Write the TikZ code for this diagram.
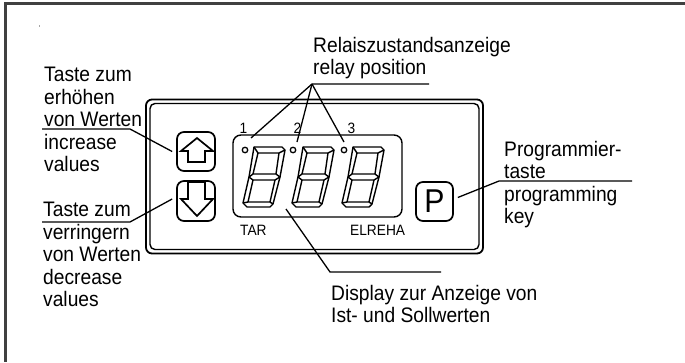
\documentclass[tikz,border=0pt]{standalone}
\usepackage{fontspec}
\setmainfont[FakeStretch=0.915]{Liberation Sans}
\usetikzlibrary{positioning}

\begin{document}
\begin{tikzpicture}[
    x=1pt, y=-1pt,
    label/.style={
        anchor=north west,
        inner sep=0pt,
        align=left,
        font=\fontsize{21}{22.5}\selectfont
    },
    small/.style={
        anchor=base,
        inner sep=0pt,
        font=\fontsize{15}{16}\selectfont
    },
    key/.style={
        rectangle,
        draw=black,
        line width=1.7pt,
        rounded corners=7pt,
        inner sep=0pt
    },
    led/.style={
        circle,
        draw=black,
        line width=1.3pt,
        inner sep=0pt,
        minimum size=5.5pt
    },
    leader/.style={line width=1.3pt},
    symbol/.style={line width=1.7pt, line join=miter},
    segment/.style={line width=1.4pt, line join=round}
]
    \useasboundingbox (0,0) rectangle (685,362);

    % 1. Page frame (top and left only)
    \draw[line width=2.5pt, black!75] (685,3.5) -- (5.5,3.5) -- (5.5,362);
    \fill[black!35] (38.5,25) rectangle (40,26.5);

    % 2. Housing
    \node (housing) [key, line width=1.8pt, rounded corners=6pt, minimum width=337pt, minimum height=154pt] at (314.5,176.5) {};
    \node (bezel) [key, line width=1.4pt, rounded corners=5pt, minimum width=329pt, minimum height=146pt] at (314.5,176.5) {};

    % 3. Keys
    \node (upkey) [key, minimum width=38pt, minimum height=39pt] at (196,151.5) {};
    \node (downkey) [key, minimum width=38pt, minimum height=40pt] at (196,201) {};
    \node (pkey) [key, minimum width=37pt, minimum height=39pt, font=\fontsize{33}{33}\selectfont] at (434.5,201.5) {P};

    \draw[symbol] (197,138) -- (213,151) -- (205,151) -- (205,162) -- (188,162) -- (188,151) -- (181,151) -- cycle;
    \draw[symbol] (188,182) -- (205,182) -- (205,199) -- (213,199) -- (197,216) -- (181,199) -- (188,199) -- cycle;

    % 4. Display with three digits
    \node (display) [key, line width=1.4pt, rounded corners=8pt, minimum width=169pt, minimum height=82pt] at (317.5,176) {};

    \foreach \n/\dx in {1/0, 2/49, 3/99} {
        \begin{scope}[shift={(\dx,0)}]
            \draw[segment] (254,147) -- (282,147) -- (285,150) -- (280,177) -- (273,204) -- (270,207) -- (247,207) -- (243,203) -- (249,177) -- cycle;
            \draw[segment] (258,153) -- (279,153) -- (276,174) -- (253,174) -- cycle;
            \draw[segment] (253,180) -- (275,180) -- (270,202) -- (248,202) -- cycle;
            \draw[segment] (254,147) -- (258,153) (285,150) -- (279,153);
            \draw[segment] (249,177) -- (253,174) (249,177) -- (253,180);
            \draw[segment] (280,177) -- (276,174) (280,177) -- (275,180);
            \draw[segment] (243,203) -- (248,202) (273,204) -- (270,202);
        \end{scope}
    }
    \node (led1) [led] at (245,150) {};
    \node (led2) [led] at (293,150) {};
    \node (led3) [led] at (344,150) {};

    \node (num1) [small] at (243.5,133) {1};
    \node (num2) [small] at (297.5,133) {2};
    \node (num3) [small] at (351.5,133) {3};
    \node (tar) [small, anchor=base west] at (240,235) {TAR};
    \node (elreha) [small, anchor=base west] at (350,235) {ELREHA};

    % 5. Labels
    \node (uplabel) [label] at (44,67) {Taste zum\\erhöhen\\von Werten\\increase\\values};
    \node (downlabel) [label] at (43,202) {Taste zum\\verringern\\von Werten\\decrease\\values};
    \node (relaylabel) [label] at (313,37) {Relaiszustandsanzeige\\relay position};
    \node (proglabel) [label] at (504,141) {Programmier-\\taste\\programming\\key};
    \node (displabel) [label] at (331,285) {Display zur Anzeige von\\Ist- und Sollwerten};

    % 6. Leader lines
    \coordinate (upbend) at (130,129);
    \coordinate (downbend) at (130,222);
    \coordinate (relaybend) at (312,84);
    \coordinate (progbend) at (499,181);
    \coordinate (dispbend) at (330,272);
    \coordinate (led1tip) at (251,138);
    \coordinate (led2tip) at (297,142);
    \coordinate (led3tip) at (344,142);
    \coordinate (disptip) at (286,209);

    \draw[leader] (42,129) -- (upbend) -- ([xshift=-4pt]upkey.west);
    \draw[leader] (42,222) -- (downbend) -- ([xshift=-4pt,yshift=2pt]downkey.west);
    \draw[leader] (429,84) -- (relaybend) -- (led1tip);
    \draw[leader] (relaybend) -- (led2tip);
    \draw[leader] (relaybend) -- (led3tip);
    \draw[leader] ([xshift=4pt,yshift=4pt]pkey.east) -- (progbend) -- (632,181);
    \draw[leader] (disptip) -- (dispbend) -- (441,272);

\end{tikzpicture}
\end{document}
